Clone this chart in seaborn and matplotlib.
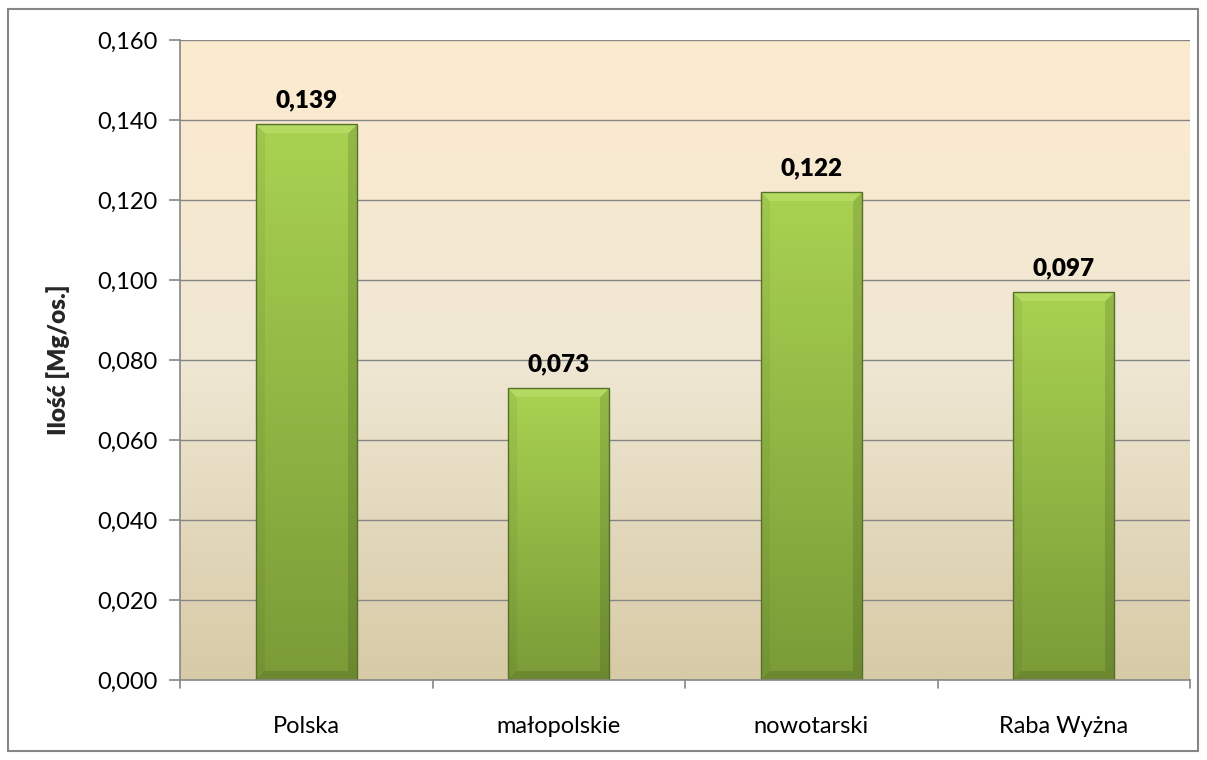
import numpy as np
import pandas as pd
import seaborn as sns
import matplotlib.pyplot as plt
from matplotlib.colors import to_rgb
from matplotlib.patches import Rectangle

# Data
categories = ['Polska', 'małopolskie', 'nowotarski', 'Raba Wyżna']
values = [0.139, 0.073, 0.122, 0.097]
y_ticks = [0.000, 0.020, 0.040, 0.060, 0.080, 0.100, 0.120, 0.140, 0.160]

df = pd.DataFrame({'Obszar': categories, 'Ilosc': values})

sns.set_style('white')
plt.rcParams['font.family'] = ['Lato', 'DejaVu Sans']

W, H = 1207, 760
fig = plt.figure(figsize=(W / 100, H / 100), dpi=100)
L, T, R, B = 180, 40, 1190, 680
ax = fig.add_axes([L / W, 1 - B / H, (R - L) / W, (B - T) / H])

sns.barplot(data=df, x='Obszar', y='Ilosc', ax=ax, width=0.4, color='#94BC48',
            edgecolor='none', linewidth=0, zorder=3)

ax.set_ylim(0, 0.16)
ax.set_xlim(-0.5, len(categories) - 0.5)

# background gradient of plot area
bg_stops = [to_rgb('#D7CAA6'), to_rgb('#EFE7D3'), to_rgb('#FDEBCF')]
n = 256
t = np.linspace(0, 1, n)
bg = np.zeros((n, 1, 3))
for i, tt in enumerate(t):
    if tt < 0.5:
        a = tt / 0.5
        c = np.array(bg_stops[0]) * (1 - a) + np.array(bg_stops[1]) * a
    else:
        a = (tt - 0.5) / 0.5
        c = np.array(bg_stops[1]) * (1 - a) + np.array(bg_stops[2]) * a
    bg[i, 0] = c
ax.imshow(bg, extent=[-0.5, len(categories) - 0.5, 0, 0.16], origin='lower',
          aspect='auto', zorder=0, interpolation='bilinear')

# bevelled gradient on the bars
px_per_y = (B - T) / 0.16
top_c = np.array(to_rgb('#A9D251'))
bot_c = np.array(to_rgb('#7A9B37'))
for patch in ax.patches:
    x0, y0 = patch.get_x(), patch.get_y()
    w, h = patch.get_width(), patch.get_height()
    wp = int(round(w * (R - L) / len(categories)))
    hp = max(int(round(h * px_per_y)), 2)
    yy = np.linspace(1, 0, hp)[:, None]
    img = bot_c * (1 - yy[..., None]) + top_c * yy[..., None]
    img = np.repeat(img, wp, axis=1)
    bev = 9
    for r in range(hp):
        for cidx in range(wp):
            d_top = r
            d_bot = hp - 1 - r
            d_l = cidx
            d_r = wp - 1 - cidx
            m = min(d_top, d_bot, d_l, d_r)
            if m < bev:
                if m == d_top:
                    img[r, cidx] = img[r, cidx] * 0.7 + np.array([0.82, 0.94, 0.55]) * 0.3
                elif m == d_r or m == d_bot:
                    img[r, cidx] = img[r, cidx] * 0.88
                else:
                    img[r, cidx] = img[r, cidx] * 0.95
    im = ax.imshow(img, extent=[x0, x0 + w, y0, y0 + h], origin='upper',
                   aspect='auto', zorder=3, interpolation='bilinear')
    im.set_clip_path(patch)
    patch.set_facecolor('none')
    ax.add_patch(Rectangle((x0, y0), w, h, fill=False, edgecolor='#56702A',
                           linewidth=1.0, zorder=4))

ax.set_xlim(-0.5, len(categories) - 0.5)
ax.set_ylim(0, 0.16)

# grid
ax.set_yticks(y_ticks)
ax.set_yticklabels([f'{v:.3f}'.replace('.', ',') for v in y_ticks])
for v in y_ticks[1:]:
    ax.axhline(v, color='#868686', linewidth=1.0, zorder=1)

for s in ['top', 'right']:
    ax.spines[s].set_visible(False)
for s in ['left', 'bottom']:
    ax.spines[s].set_color('#868686')
    ax.spines[s].set_linewidth(1.2)
    ax.spines[s].set_zorder(5)

ax.tick_params(axis='y', length=8, width=1.2, color='#868686', pad=8,
               labelsize=17, labelcolor='black', left=True)
ax.tick_params(axis='x', length=0, pad=26, labelsize=17, labelcolor='black')
# x tick marks at category boundaries
for xb in np.arange(-0.5, len(categories), 1.0):
    ax.plot([xb, xb], [0, -0.0021], color='#868686', linewidth=1.2,
            clip_on=False, zorder=5)

ax.set_xlabel('')
ax.set_ylabel('Ilość [Mg/os.]', fontsize=17.5, fontweight='heavy', labelpad=20)

for i, v in enumerate(values):
    ax.text(i, v + 0.0042, f'{v:.3f}'.replace('.', ','), ha='center', va='baseline',
            fontsize=17.5, fontweight='heavy', color='black')

# outer frame
fig.patches.append(Rectangle((8 / W, 9 / H), (1198 - 8) / W, (751 - 9) / H,
                             transform=fig.transFigure, fill=False,
                             edgecolor='#868686', linewidth=1.5))

fig.savefig('out.png', dpi=100)
